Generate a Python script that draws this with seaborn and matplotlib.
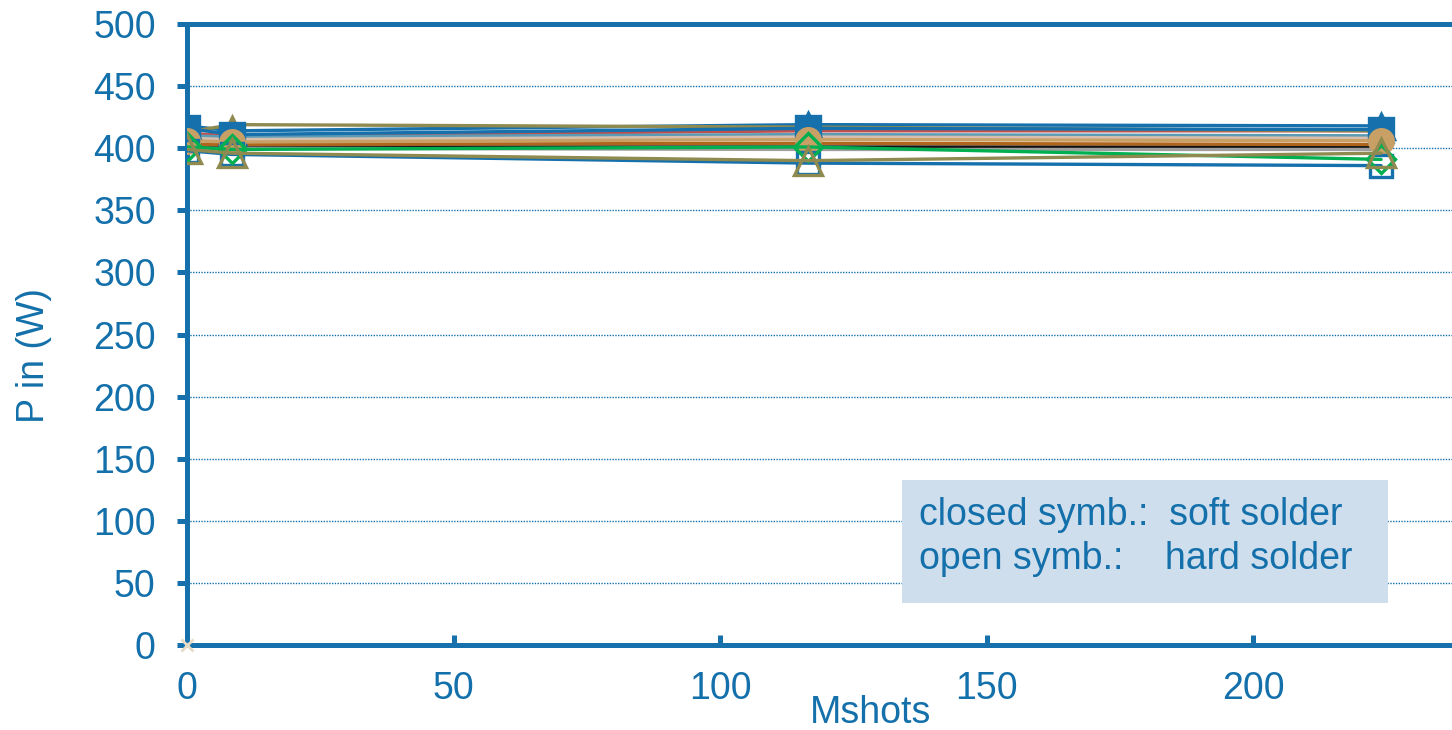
import matplotlib
matplotlib.use("Agg")
import matplotlib.pyplot as plt
from matplotlib.patches import Rectangle
import seaborn as sns

# Cumulative shots (millions) at which the input power was measured
mshots = [0, 8.5, 116.5, 224]

# Input power (W) per module
p_blue_sq_filled = [416, 411, 416, 415]
p_blue_tri_filled = [418, 414, 419, 418]
p_olive_tri_filled = [413, 419, 417, 414]
p_red = [412, 410, 414, 414]
p_steel = [410, 409, 411, 410]
p_beige = [408, 407, 409, 408]
p_tan_circle = [406, 405, 407, 406]
p_brown = [403, 403, 404, 403]
p_black = [402, 401, 401, 401]
p_gray = [400, 400, 399, 399]
p_green_dia_open = [401, 399, 401, 391]
p_olive_tri_open = [399, 396, 390, 396]
p_blue_sq_open = [398, 395, 388, 386]

# Reference point at the origin
origin_x = [0]
origin_y = [0]

y_ticks = [0, 50, 100, 150, 200, 250, 300, 350, 400, 450, 500]
x_ticks = [0, 50, 100, 150, 200]

BLUE = "#1570AC"
TEXT = "#1470AA"
FS = 27

sns.set_theme(style="white")
plt.rcParams["font.family"] = ["Liberation Sans", "DejaVu Sans"]

fig = plt.figure(figsize=(14.52, 7.30), dpi=100)
ax = fig.add_axes([0.1288, 0.1164, 0.8712, 0.8507])

# (values, line colour, marker, marker size, filled)
series = [
    (p_red, "#C0504D", None, 0, True),
    (p_steel, "#5B9BB5", None, 0, True),
    (p_beige, "#D6BFAE", None, 0, True),
    (p_black, "#111111", None, 0, True),
    (p_gray, "#9E9E9E", None, 0, True),
    (p_brown, "#B0651C", "s", 9, True),
    (p_blue_tri_filled, BLUE, "^", 18, True),
    (p_olive_tri_filled, "#8E8A50", "^", 12, True),
    (p_blue_sq_filled, BLUE, "s", 17, True),
    (p_tan_circle, "#C8A066", "o", 17, True),
    (p_blue_sq_open, BLUE, "s", 16, False),
    (p_green_dia_open, "#00B050", "D", 14, False),
    (p_olive_tri_open, "#8E8A50", "^", 20, False),
]

for vals, col, mk, ms, filled in series:
    kws = dict(x=mshots, y=vals, ax=ax, color=col, linewidth=2.4,
               errorbar=None, sort=False, zorder=3)
    if mk is not None:
        kws.update(marker=mk, markersize=ms, markeredgecolor=col,
                   markeredgewidth=2.4,
                   markerfacecolor=col if filled else "none")
    sns.lineplot(**kws)

sns.lineplot(x=origin_x, y=origin_y, ax=ax, marker="x", markersize=9,
             markeredgecolor="#E6DCC6", markeredgewidth=2, linewidth=0,
             errorbar=None, zorder=4, clip_on=False)

ax.set_xlim(0, 237.3)
ax.set_ylim(0, 500)
ax.set_xticks(x_ticks)
ax.set_yticks(y_ticks)
ax.set_xticklabels([str(v) for v in x_ticks])
ax.set_yticklabels([str(v) for v in y_ticks])

for yv in y_ticks[1:-1]:
    ax.axhline(yv, color=BLUE, linewidth=1.0, linestyle=(0, (1, 1)), zorder=1)

for side in ("left", "bottom", "top"):
    ax.spines[side].set_visible(True)
    ax.spines[side].set_color(BLUE)
    ax.spines[side].set_linewidth(3.6)
ax.spines["right"].set_visible(False)

ax.tick_params(axis="y", direction="out", length=7.5, width=3.6, color=BLUE,
               labelsize=FS, labelcolor=TEXT, pad=15, left=True)
ax.tick_params(axis="x", direction="in", length=7.5, width=3.6, color=BLUE,
               labelsize=FS, labelcolor=TEXT, pad=19, bottom=True)

ax.set_xlabel("Mshots", fontsize=FS, color=TEXT)
ax.set_ylabel("P in (W)", fontsize=FS, color=TEXT)
ax.xaxis.set_label_coords(0.54, -0.081)
ax.yaxis.set_label_coords(-0.107, 0.467)

# Key explaining the marker fills
ax.add_patch(Rectangle((0.5652, 0.0677), 0.3842, 0.198, transform=ax.transAxes,
                       facecolor="#CFDEEC", edgecolor="none", zorder=5))
ax.text(0.579, 0.21, "closed symb.:  soft solder", transform=ax.transAxes,
        fontsize=FS, color=TEXT, va="center", ha="left", zorder=6)
ax.text(0.579, 0.138, "open symb.:    hard solder", transform=ax.transAxes,
        fontsize=FS, color=TEXT, va="center", ha="left", zorder=6)

fig.savefig("out.png", dpi=100)
